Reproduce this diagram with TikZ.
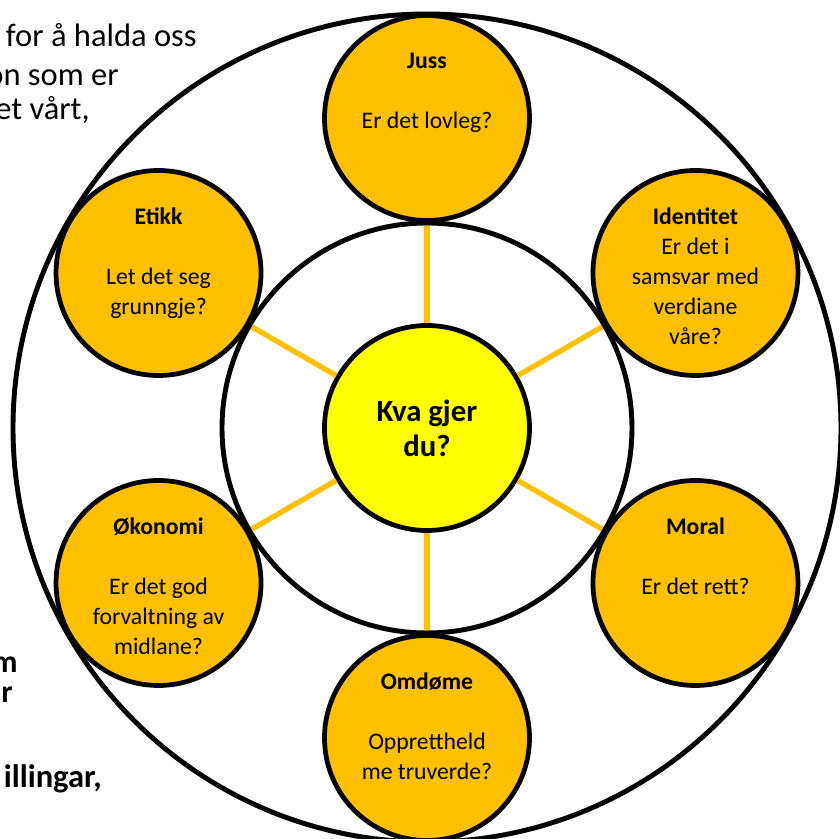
\documentclass[tikz,border=0pt]{standalone}
\usepackage{fontspec}
\setmainfont{Carlito}
\usetikzlibrary{positioning}
\definecolor{gold}{HTML}{FFC000}
\definecolor{sun}{HTML}{FFFF00}
\begin{document}
\begin{tikzpicture}
  [every node/.style={inner sep=0pt},
   area/.style={circle,draw,line width=2.7pt,minimum size=4.1cm,fill=gold},
   spoke/.style={gold,line width=3pt}]
  \tikzstyle{txt} = [align=center,font=\fontsize{13.5}{17}\selectfont]
  \tikzstyle{ring} = [line width=2.8pt]
  \tikzstyle{bg} = [anchor=base east,font=\fontsize{18.5}{22}\selectfont]
  \useasboundingbox (-8.54,-8.22) rectangle (8.26,8.56);
  \clip (-8.54,-8.22) rectangle (8.26,8.56);
  % text cut off at the left edge
  \node[bg] (t1) at (-4.6,7.62)  {for å halda oss};
  \node[bg] (t2) at (-6.16,6.84) {on som er};
  \node[bg] (t3) at (-6.74,6.16) {et vårt,};
  \node[bg,font=\bfseries\fontsize{18}{22}\selectfont] (t4) at (-8.18,-4.9)  {m};
  \node[bg,font=\bfseries\fontsize{18}{22}\selectfont] (t5) at (-8.28,-5.5)  {r};
  \node[bg,font=\bfseries\fontsize{18.5}{22}\selectfont] (t6) at (-6.5,-7.2) {illingar,};
  % circles
  \node[area,fill=sun,font=\bfseries\fontsize{17.5}{20}\selectfont,align=center] (kva) at (0,0) {Kva gjer\\du?};
  \node[area] (juss)      at (90:6.2)   {};
  \node[area] (identitet) at (30:6.2)   {};
  \node[area] (moral)     at (-30:6.2)  {};
  \node[area] (omdome)    at (-90:6.2)  {};
  \node[area] (okonomi)   at (-150:6.2) {};
  \node[area] (etikk)     at (150:6.2)  {};
  \foreach \dest in {juss,identitet,moral,omdome,okonomi,etikk}
   \draw[spoke] (kva) -- (\dest);
  % texts in the circles
  \node[txt,below=0.79cm of juss.north]      {\textbf{Juss}\\[17pt]Er det lovleg?};
  \node[txt,below=0.79cm of identitet.north] {\textbf{Identitet}\\Er det i\\samsvar med\\verdiane\\våre?};
  \node[txt,below=0.79cm of moral.north]     {\textbf{Moral}\\[17pt]Er det rett?};
  \node[txt,below=0.79cm of omdome.north]    {\textbf{Omdøme}\\[17pt]Opprettheld\\me truverde?};
  \node[txt,below=0.79cm of okonomi.north]   {\textbf{Økonomi}\\[17pt]Er det god\\forvaltning av\\midlane?};
  \node[txt,below=0.79cm of etikk.north]     {\textbf{Etikk}\\[17pt]Let det seg\\grunngje?};
  \draw[ring] (0,0) circle (8.28);
  \draw[ring] (0,0) circle (4.1);
\end{tikzpicture}
\end{document}
